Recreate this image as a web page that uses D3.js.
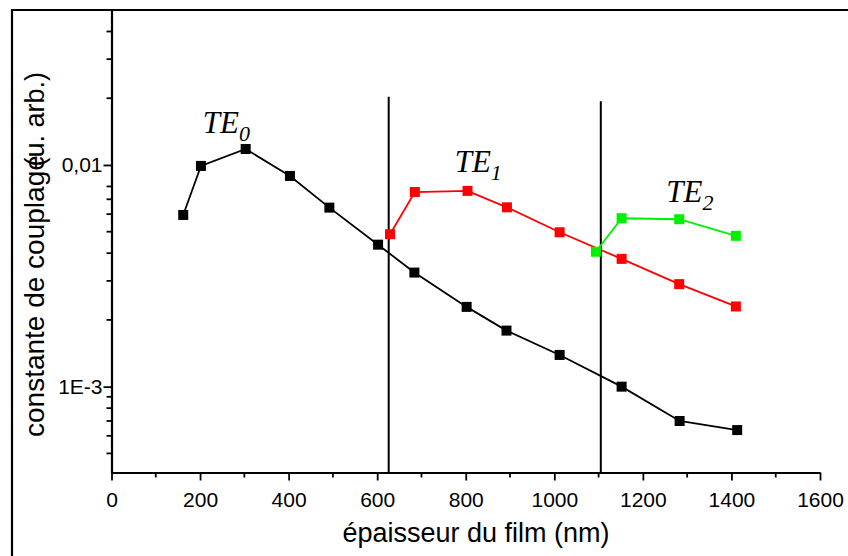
<!DOCTYPE html>
<html><head><meta charset="utf-8">
<script src="https://cdn.jsdelivr.net/npm/d3@7"></script>
<style>
html,body{margin:0;padding:0;background:#fff;}
svg{display:block;}
</style></head>
<body>
<svg id="chart" width="848" height="556"></svg>
<script>
// ---- data ----
const xMajorTicks = [0, 200, 400, 600, 800, 1000, 1200, 1400, 1600];
const xMinorTicks = [100, 300, 500, 700, 900, 1100, 1300, 1500];
const yMajorTicks = [0.01, 0.001];
const yMajorLabels = ["0,01", "1E-3"];
const yMinorTicks = [5e-4, 6e-4, 7e-4, 8e-4, 9e-4, 2e-3, 3e-3, 4e-3, 5e-3, 6e-3, 7e-3, 8e-3, 0.02, 0.03, 0.04];
const xDomain = [0, 1600];
const yDomain = [4.1e-4, 0.05];

const te0X = [162, 202, 303, 403, 492, 602, 684, 802, 892, 1012, 1152, 1283, 1413];
const te0Y = [0.00595, 0.0099, 0.0118, 0.00892, 0.00642, 0.00437, 0.00327, 0.00229, 0.00179, 0.00139, 0.001, 0.0007, 0.000637];
const te1X = [629, 685, 804, 893, 1012, 1152, 1282, 1410];
const te1Y = [0.00487, 0.00755, 0.00764, 0.00644, 0.00497, 0.00377, 0.0029, 0.0023];
const te2X = [1094, 1152, 1282, 1410];
const te2Y = [0.00406, 0.00575, 0.00569, 0.00479];

const cutoffX = [626, 1105];
const cutoffTop = [0.0203, 0.0194];

const modeNames = ["TE", "TE", "TE"];
const modeSubs = ["0", "1", "2"];
const modeLabelX = [206, 775, 1253];
const modeLabelY = [0.0139, 0.0093, 0.00683];

const xTitle = "épaisseur du film (nm)";
const yTitleMain = "constante de couplage";
const yTitleUnit = "(u. arb.)";

(function () {
// ---- layout ----
const svg = d3.select("#chart");
const mLeft = 111.5, mRight = 820, mTop = 10, mBottom = 472.5;
const x = d3.scaleLinear().domain(xDomain).range([mLeft, mRight]);
const y = d3.scaleLog().domain(yDomain).range([mBottom, mTop]);

const sans = "'Liberation Sans', Arial, Helvetica, sans-serif";
const serif = "'Liberation Serif', 'Times New Roman', serif";

// outer frame (left and top)
svg.append("path")
  .attr("d", `M12,556 L12,10 L848,10`)
  .attr("fill", "none").attr("stroke", "#000").attr("stroke-width", 2.2);

// X axis (major ticks + labels)
const gx = svg.append("g").attr("transform", `translate(0,${mBottom})`);
gx.call(d3.axisBottom(x).tickValues(xMajorTicks).tickSize(8).tickSizeOuter(0).tickFormat(d3.format("d")));
gx.select("path.domain").attr("stroke-width", 2.2).attr("stroke", "#000");
gx.selectAll(".tick line").attr("stroke-width", 1.8).attr("stroke", "#000");
gx.selectAll(".tick text").attr("font-family", sans).attr("font-size", 21).attr("fill", "#000")
  .attr("y", 34.5).attr("dy", null);
// x minor ticks
svg.append("g").selectAll("line").data(xMinorTicks).enter().append("line")
  .attr("x1", d => x(d)).attr("x2", d => x(d))
  .attr("y1", mBottom).attr("y2", mBottom + 5)
  .attr("stroke", "#000").attr("stroke-width", 1.8);

// Y axis
const gy = svg.append("g").attr("transform", `translate(${mLeft},0)`);
gy.call(d3.axisLeft(y).tickValues(yMajorTicks).tickSize(8).tickSizeOuter(0)
  .tickFormat((d, i) => yMajorLabels[i]));
gy.select("path.domain").attr("stroke-width", 2.2).attr("stroke", "#000");
gy.selectAll(".tick line").attr("stroke-width", 1.8).attr("stroke", "#000");
gy.selectAll(".tick text").attr("font-family", sans).attr("font-size", 21).attr("fill", "#000").attr("x", -9);
// y minor ticks
svg.append("g").selectAll("line").data(yMinorTicks).enter().append("line")
  .attr("x1", mLeft - 5).attr("x2", mLeft)
  .attr("y1", d => y(d)).attr("y2", d => y(d))
  .attr("stroke", "#000").attr("stroke-width", 1.8);

// cutoff vertical lines
svg.selectAll("line.cut").data(cutoffX).enter().append("line")
  .attr("class", "cut")
  .attr("x1", d => x(d)).attr("x2", d => x(d))
  .attr("y1", (d, i) => y(cutoffTop[i])).attr("y2", mBottom)
  .attr("stroke", "#000").attr("stroke-width", 2);

// series
const series = [
  { xs: te0X, ys: te0Y, color: "#000000" },
  { xs: te1X, ys: te1Y, color: "#ff0000" },
  { xs: te2X, ys: te2Y, color: "#00f000" }
];
const line = d3.line().x(d => x(d[0])).y(d => y(d[1]));
const ms = 10;
series.forEach(s => {
  const pts = s.xs.map((v, i) => [v, s.ys[i]]);
  svg.append("path").datum(pts).attr("d", line)
    .attr("fill", "none").attr("stroke", s.color).attr("stroke-width", 1.8);
  svg.append("g").selectAll("rect").data(pts).enter().append("rect")
    .attr("x", d => x(d[0]) - ms / 2).attr("y", d => y(d[1]) - ms / 2)
    .attr("width", ms).attr("height", ms).attr("fill", s.color);
});

// mode labels
modeNames.forEach((n, i) => {
  const t = svg.append("text")
    .attr("x", x(modeLabelX[i])).attr("y", y(modeLabelY[i]))
    .attr("font-family", serif).attr("font-style", "italic").attr("font-size", 31).attr("fill", "#000");
  t.append("tspan").text(n);
  t.append("tspan").attr("dy", 8).attr("font-size", 22).text(modeSubs[i]);
});

// axis titles
svg.append("text").attr("x", 476).attr("y", 542)
  .attr("text-anchor", "middle").attr("font-family", sans).attr("font-size", 27).attr("fill", "#000")
  .text(xTitle);
svg.append("text").attr("transform", "translate(44,437) rotate(-90)")
  .attr("text-anchor", "start").attr("font-family", sans).attr("font-size", 28).attr("fill", "#000")
  .text(yTitleMain);
svg.append("text").attr("transform", "translate(44,72) rotate(-90)")
  .attr("text-anchor", "end").attr("font-family", sans).attr("font-size", 27).attr("fill", "#000")
  .text(yTitleUnit);
})();
</script>
</body></html>
